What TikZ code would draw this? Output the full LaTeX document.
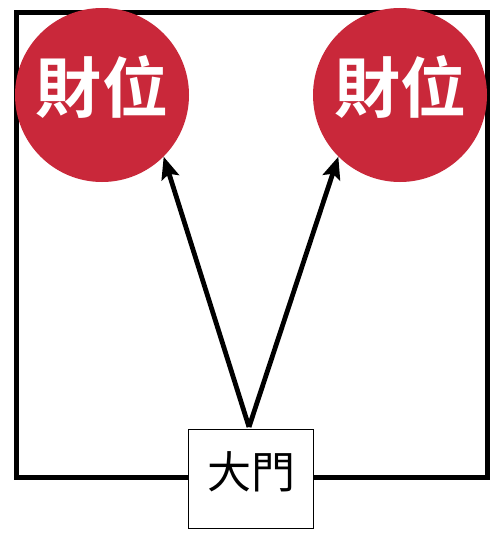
\documentclass[tikz,border=0pt]{standalone}
\usepackage{fontspec}
\newfontfamily\cjk{Noto Sans CJK TC}
\newfontfamily\cjkbold{Noto Sans CJK TC Bold}
\usetikzlibrary{arrows.meta}
\definecolor{wealthred}{HTML}{C9283A}
\tikzset{
  wealth/.style={circle, fill=wealthred, draw=none, minimum size=174bp, inner sep=0pt},
  wealthtext/.style={text=white, font=\cjkbold\fontsize{66bp}{66bp}\selectfont},
  doorbox/.style={rectangle, draw=black, line width=0.9bp, fill=white, minimum width=125bp,
    minimum height=99bp, inner sep=0pt},
  doortext/.style={font=\cjk\fontsize{44bp}{44bp}\selectfont},
  wall/.style={draw=black, line width=4.5bp},
  pointer/.style={draw=black, line width=4.8bp, -{Stealth[length=22bp,width=18bp,inset=4bp]}}
}
\begin{document}
\begin{tikzpicture}[x=1bp,y=-1bp]
\useasboundingbox (0,0) rectangle (500,537);
\fill[white] (0,0) rectangle (500,537);
\draw[wall] (16.5,12.5) rectangle (487.5,477.5);
\node[wealth] (c1) at (102,95) {};
\node[wealth] (c2) at (400,95) {};
\node[wealthtext] (t1) at (102,87) {財位};
\node[wealthtext] (t2) at (400,87) {財位};
\node[doorbox] (door) at (250.5,478.5) {};
\node[doortext] (dt) at (251,472) {大門};
\coordinate (start) at (249,427);
\draw[pointer] (start) -- (c1.-45);
\draw[pointer] (start) -- (c2.225);
\end{tikzpicture}
\end{document}
